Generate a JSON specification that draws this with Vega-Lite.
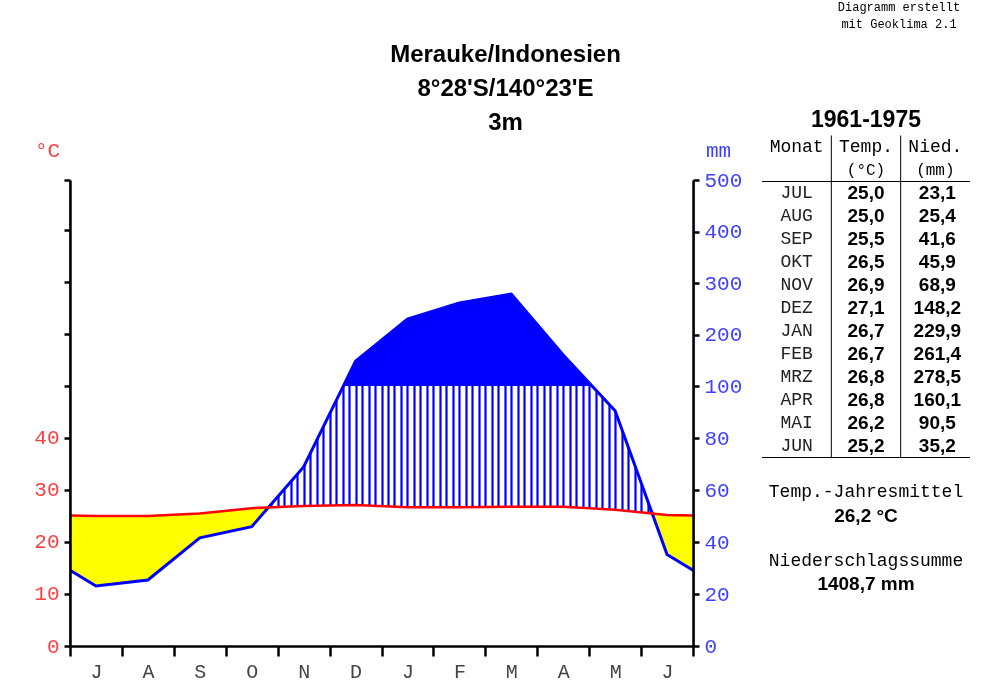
{
  "$schema": "https://vega.github.io/schema/vega-lite/v6.json",
  "autosize": {"type": "none"},
  "padding": {"left": 70, "top": 180, "right": 930, "bottom": 505},
  "background": "white",
  "datasets": {
    "clim": [
      {"idx": 0, "m": "JUN", "t": 25.2, "p": 35.2},
      {"idx": 1, "m": "JUL", "t": 25.0, "p": 23.1},
      {"idx": 2, "m": "AUG", "t": 25.0, "p": 25.4},
      {"idx": 3, "m": "SEP", "t": 25.5, "p": 41.6},
      {"idx": 4, "m": "OKT", "t": 26.5, "p": 45.9},
      {"idx": 5, "m": "NOV", "t": 26.9, "p": 68.9},
      {"idx": 6, "m": "DEZ", "t": 27.1, "p": 148.2},
      {"idx": 7, "m": "JAN", "t": 26.7, "p": 229.9},
      {"idx": 8, "m": "FEB", "t": 26.7, "p": 261.4},
      {"idx": 9, "m": "MRZ", "t": 26.8, "p": 278.5},
      {"idx": 10, "m": "APR", "t": 26.8, "p": 160.1},
      {"idx": 11, "m": "MAI", "t": 26.2, "p": 90.5},
      {"idx": 12, "m": "JUN", "t": 25.2, "p": 35.2},
      {"idx": 13, "m": "JUL", "t": 25.0, "p": 23.1}
    ],
    "hdr": [
      {"col": "Monat", "h1": "Monat", "h2": ""},
      {"col": "Temp", "h1": "Temp.", "h2": "(°C)"},
      {"col": "Nied", "h1": "Nied.", "h2": "(mm)"}
    ]
  },
  "bounds": "flush",
  "spacing": 69,
  "hconcat": [
    {
      "width": 623,
      "height": 466,
      "title": {
        "text": ["Merauke/Indonesien", "8°28'S/140°23'E", "3m"],
        "font": "Liberation Sans",
        "fontSize": 24,
        "fontWeight": "bold",
        "lineHeight": 34,
        "anchor": "middle",
        "dx": 124,
        "offset": 4,
        "color": "#000000"
      },
      "layer": [
        {
          "data": {"values": [{}]},
          "mark": {"type": "rect", "color": "#0000FF"},
          "encoding": {
            "x": {"datum": 0.5, "type": "quantitative",
              "scale": {"domain": [0.5, 12.5], "nice": false, "zero": false},
              "axis": {"orient": "bottom", "values": [0.5,0.625,0.75,0.875,1,1.125,1.25,1.375,1.5,1.625,1.75,1.875,2,2.125,2.25,2.375,2.5,2.625,2.75,2.875,3,3.125,3.25,3.375,3.5,3.625,3.75,3.875,4,4.125,4.25,4.375,4.5,4.625,4.75,4.875,5,5.125,5.25,5.375,5.5,5.625,5.75,5.875,6,6.125,6.25,6.375,6.5,6.625,6.75,6.875,7,7.125,7.25,7.375,7.5,7.625,7.75,7.875,8,8.125,8.25,8.375,8.5,8.625,8.75,8.875,9,9.125,9.25,9.375,9.5,9.625,9.75,9.875,10,10.125,10.25,10.375,10.5,10.625,10.75,10.875,11,11.125,11.25,11.375,11.5,11.625,11.75,11.875,12,12.125,12.25,12.375,12.5],
                "grid": true, "gridColor": "#0000FF", "gridWidth": 2.2, "gridOpacity": 1,
                "domain": false, "ticks": false, "labels": false, "title": null, "zindex": 0}},
            "x2": {"datum": 12.5},
            "y": {"datum": 100, "type": "quantitative",
              "scale": {"domain": [0, 100, 500], "range": [466, 206, 0], "nice": false, "zero": false},
              "axis": null},
            "y2": {"datum": 500}
          }
        },
        {
          "data": {"name": "clim"},
          "mark": {"type": "area", "color": "#FFFFFF", "clip": true},
          "encoding": {
            "x": {"field": "idx", "type": "quantitative", "scale": {"domain": [0.5, 12.5], "nice": false, "zero": false}, "axis": null},
            "y": {"field": "p", "type": "quantitative",
              "scale": {"domain": [0, 100, 500], "range": [466, 206, 0], "nice": false, "zero": false}, "axis": null},
            "y2": {"datum": 500}
          }
        },
        {
          "data": {"name": "clim"},
          "mark": {"type": "area", "color": "#FFFF00", "clip": true},
          "encoding": {
            "x": {"field": "idx", "type": "quantitative", "scale": {"domain": [0.5, 12.5], "nice": false, "zero": false}, "axis": null},
            "y": {"field": "t", "type": "quantitative",
              "scale": {"domain": [0, 89.615], "nice": false, "zero": false}, "axis": null},
            "y2": {"datum": 0}
          }
        },
        {
          "data": {"name": "clim"},
          "mark": {"type": "area", "color": "#0000FF", "blend": "lighten"},
          "encoding": {
            "x": {"field": "idx", "type": "quantitative", "scale": {"domain": [0.5, 12.5], "nice": false, "zero": false}, "axis": null},
            "y": {"field": "p", "type": "quantitative",
              "scale": {"domain": [0, 100, 500], "range": [466, 206, 0], "nice": false, "zero": false}, "axis": null},
            "y2": {"datum": 0}
          }
        },
        {
          "data": {"name": "clim"},
          "mark": {"type": "line", "color": "#0000FF", "strokeWidth": 3, "clip": true},
          "encoding": {
            "x": {"field": "idx", "type": "quantitative", "scale": {"domain": [0.5, 12.5], "nice": false, "zero": false},
              "axis": {"orient": "bottom", "values": [1,2,3,4,5,6,7,8,9,10,11,12], "domain": false, "ticks": false, "tickSize": 0,
                "grid": false, "title": null, "labelPadding": 15,
                "labelExpr": "['J','A','S','O','N','D','J','F','M','A','M','J'][datum.value - 1]",
                "labelFont": "Liberation Mono", "labelFontSize": 20, "labelColor": "#444444", "zindex": 1}},
            "y": {"field": "p", "type": "quantitative",
              "scale": {"domain": [0, 100, 500], "range": [466, 206, 0], "nice": false, "zero": false},
              "axis": {"orient": "right", "values": [0,20,40,60,80,100,200,300,400,500], "grid": false,
                "domainColor": "#000000", "domainWidth": 2.5, "tickColor": "#000000", "tickWidth": 2.5, "tickSize": 6,
                "labelFont": "Liberation Mono", "labelFontSize": 21, "labelColor": "#4040FF", "labelPadding": 5,
                "title": "mm", "titleFont": "Liberation Mono", "titleFontSize": 21, "titleFontWeight": "normal", "titleColor": "#4040FF",
                "titleAngle": 0, "titleX": 25, "titleY": -30, "titleAlign": "center", "titleBaseline": "middle", "zindex": 1}}
          }
        },
        {
          "data": {"name": "clim"},
          "mark": {"type": "line", "color": "#FF0000", "strokeWidth": 2.5, "clip": true},
          "encoding": {
            "x": {"field": "idx", "type": "quantitative", "scale": {"domain": [0.5, 12.5], "nice": false, "zero": false},
              "axis": {"orient": "bottom", "values": [0.5,1.5,2.5,3.5,4.5,5.5,6.5,7.5,8.5,9.5,10.5,11.5,12.5], "labels": false,
                "grid": false, "title": null, "domainColor": "#000000", "domainWidth": 2.5, "tickColor": "#000000", "tickWidth": 2.5, "tickSize": 10, "zindex": 1}},
            "y": {"field": "t", "type": "quantitative",
              "scale": {"domain": [0, 89.615], "nice": false, "zero": false},
              "axis": {"orient": "left", "values": [0,10,20,30,40,50,60,70,80,89.615], "grid": false,
                "labelExpr": "datum.value <= 40 ? datum.label : ''",
                "domainColor": "#000000", "domainWidth": 2.5, "tickColor": "#000000", "tickWidth": 2.5, "tickSize": 6,
                "labelFont": "Liberation Mono", "labelFontSize": 21, "labelColor": "#FF4040", "labelPadding": 5,
                "title": "°C", "titleFont": "Liberation Mono", "titleFontSize": 21, "titleFontWeight": "normal", "titleColor": "#FF4040",
                "titleAngle": 0, "titleX": -23, "titleY": -30, "titleAlign": "center", "titleBaseline": "middle", "zindex": 1}}
          }
        }
      ],
      "resolve": {"scale": {"y": "independent"}, "axis": {"x": "independent", "y": "independent"}}
    },
    {
      "width": 208,
      "height": 280,
      "title": {
        "text": ["Diagramm erstellt", "mit Geoklima 2.1"],
        "font": "Liberation Mono",
        "fontSize": 12,
        "fontWeight": "normal",
        "lineHeight": 17,
        "anchor": "middle",
        "dx": 33,
        "offset": 78,
        "color": "#000000"
      },
      "layer": [
        {
          "data": {"name": "clim"},
          "transform": [{"filter": "datum.idx >= 1 && datum.idx <= 12"}],
          "mark": {"type": "text", "font": "Liberation Mono", "fontSize": 18, "color": "#222222"},
          "encoding": {
            "x": {"datum": "Monat", "type": "nominal", "bandPosition": 0.5,
              "scale": {"type": "band", "domain": ["Monat", "Temp", "Nied"], "paddingInner": 0, "paddingOuter": 0}, "axis": null},
            "y": {"field": "m", "type": "nominal", "bandPosition": 0.5,
              "scale": {"type": "band", "domain": ["JUL","AUG","SEP","OKT","NOV","DEZ","JAN","FEB","MRZ","APR","MAI","JUN"], "range": [1.5, 277.5], "paddingInner": 0, "paddingOuter": 0}, "axis": null},
            "text": {"field": "m", "type": "nominal"}
          }
        },
        {
          "data": {"name": "clim"},
          "transform": [{"filter": "datum.idx >= 1 && datum.idx <= 12"}],
          "mark": {"type": "text", "font": "Liberation Sans", "fontSize": 19, "fontWeight": "bold", "color": "#000000"},
          "encoding": {
            "x": {"datum": "Temp", "type": "nominal", "bandPosition": 0.5, "axis": null},
            "y": {"field": "m", "type": "nominal", "bandPosition": 0.5, "axis": null},
            "text": {"field": "t", "type": "quantitative", "format": ".1f"}
          }
        },
        {
          "data": {"name": "clim"},
          "transform": [{"filter": "datum.idx >= 1 && datum.idx <= 12"}],
          "mark": {"type": "text", "font": "Liberation Sans", "fontSize": 19, "fontWeight": "bold", "color": "#000000", "dx": 2},
          "encoding": {
            "x": {"datum": "Nied", "type": "nominal", "bandPosition": 0.5, "axis": null},
            "y": {"field": "m", "type": "nominal", "bandPosition": 0.5, "axis": null},
            "text": {"field": "p", "type": "quantitative", "format": ".1f"}
          }
        },
        {
          "data": {"name": "hdr"},
          "mark": {"type": "text", "font": "Liberation Mono", "fontSize": 18, "color": "#000000", "dy": -46},
          "encoding": {
            "x": {"field": "col", "type": "nominal", "bandPosition": 0.5, "axis": null},
            "y": {"datum": "JUL", "type": "nominal", "bandPosition": 0.5, "axis": null},
            "text": {"field": "h1", "type": "nominal"}
          }
        },
        {
          "data": {"name": "hdr"},
          "mark": {"type": "text", "font": "Liberation Mono", "fontSize": 16, "color": "#000000", "dy": -23},
          "encoding": {
            "x": {"field": "col", "type": "nominal", "bandPosition": 0.5, "axis": null},
            "y": {"datum": "JUL", "type": "nominal", "bandPosition": 0.5, "axis": null},
            "text": {"field": "h2", "type": "nominal"}
          }
        },
        {
          "data": {"values": [{}]},
          "mark": {"type": "text", "text": "1961-1975", "font": "Liberation Sans", "fontSize": 23, "fontWeight": "bold", "color": "#000000", "dy": -73},
          "encoding": {
            "x": {"datum": "Temp", "type": "nominal", "bandPosition": 0.5, "axis": null},
            "y": {"datum": "JUL", "type": "nominal", "bandPosition": 0.5, "axis": null}
          }
        },
        {
          "data": {"values": [{}]},
          "mark": {"type": "text", "text": "Temp.-Jahresmittel", "font": "Liberation Mono", "fontSize": 18, "color": "#000000", "dy": 46},
          "encoding": {
            "x": {"datum": "Temp", "type": "nominal", "bandPosition": 0.5, "axis": null},
            "y": {"datum": "JUN", "type": "nominal", "bandPosition": 0.5, "axis": null}
          }
        },
        {
          "data": {"values": [{}]},
          "mark": {"type": "text", "text": "26,2 °C", "font": "Liberation Sans", "fontSize": 19, "fontWeight": "bold", "color": "#000000", "dy": 70},
          "encoding": {
            "x": {"datum": "Temp", "type": "nominal", "bandPosition": 0.5, "axis": null},
            "y": {"datum": "JUN", "type": "nominal", "bandPosition": 0.5, "axis": null}
          }
        },
        {
          "data": {"values": [{}]},
          "mark": {"type": "text", "text": "Niederschlagssumme", "font": "Liberation Mono", "fontSize": 18, "color": "#000000", "dy": 115},
          "encoding": {
            "x": {"datum": "Temp", "type": "nominal", "bandPosition": 0.5, "axis": null},
            "y": {"datum": "JUN", "type": "nominal", "bandPosition": 0.5, "axis": null}
          }
        },
        {
          "data": {"values": [{}]},
          "mark": {"type": "text", "text": "1408,7 mm", "font": "Liberation Sans", "fontSize": 19, "fontWeight": "bold", "color": "#000000", "dy": 138},
          "encoding": {
            "x": {"datum": "Temp", "type": "nominal", "bandPosition": 0.5, "axis": null},
            "y": {"datum": "JUN", "type": "nominal", "bandPosition": 0.5, "axis": null}
          }
        },
        {
          "data": {"name": "hdr"},
          "transform": [{"filter": "datum.col != 'Monat'"}],
          "mark": {"type": "rule", "color": "#000000", "strokeWidth": 1, "yOffset": -46},
          "encoding": {
            "x": {"field": "col", "type": "nominal", "bandPosition": 0, "axis": null},
            "y": {"datum": "JUL", "type": "nominal", "bandPosition": 0, "axis": null},
            "y2": {"datum": "JUN", "bandPosition": 1}
          }
        },
        {
          "data": {"values": [{}]},
          "mark": {"type": "rule", "color": "#000000", "strokeWidth": 1},
          "encoding": {
            "y": {"datum": "JUL", "type": "nominal", "bandPosition": 0, "axis": null}
          }
        },
        {
          "data": {"values": [{}]},
          "mark": {"type": "rule", "color": "#000000", "strokeWidth": 1},
          "encoding": {
            "y": {"datum": "JUN", "type": "nominal", "bandPosition": 1, "axis": null}
          }
        }
      ]
    }
  ],
  "config": {
    "font": "Liberation Sans",
    "view": {"stroke": null},
    "locale": {"number": {"decimal": ",", "thousands": ".", "grouping": [3], "currency": ["", " €"]}}
  }
}
